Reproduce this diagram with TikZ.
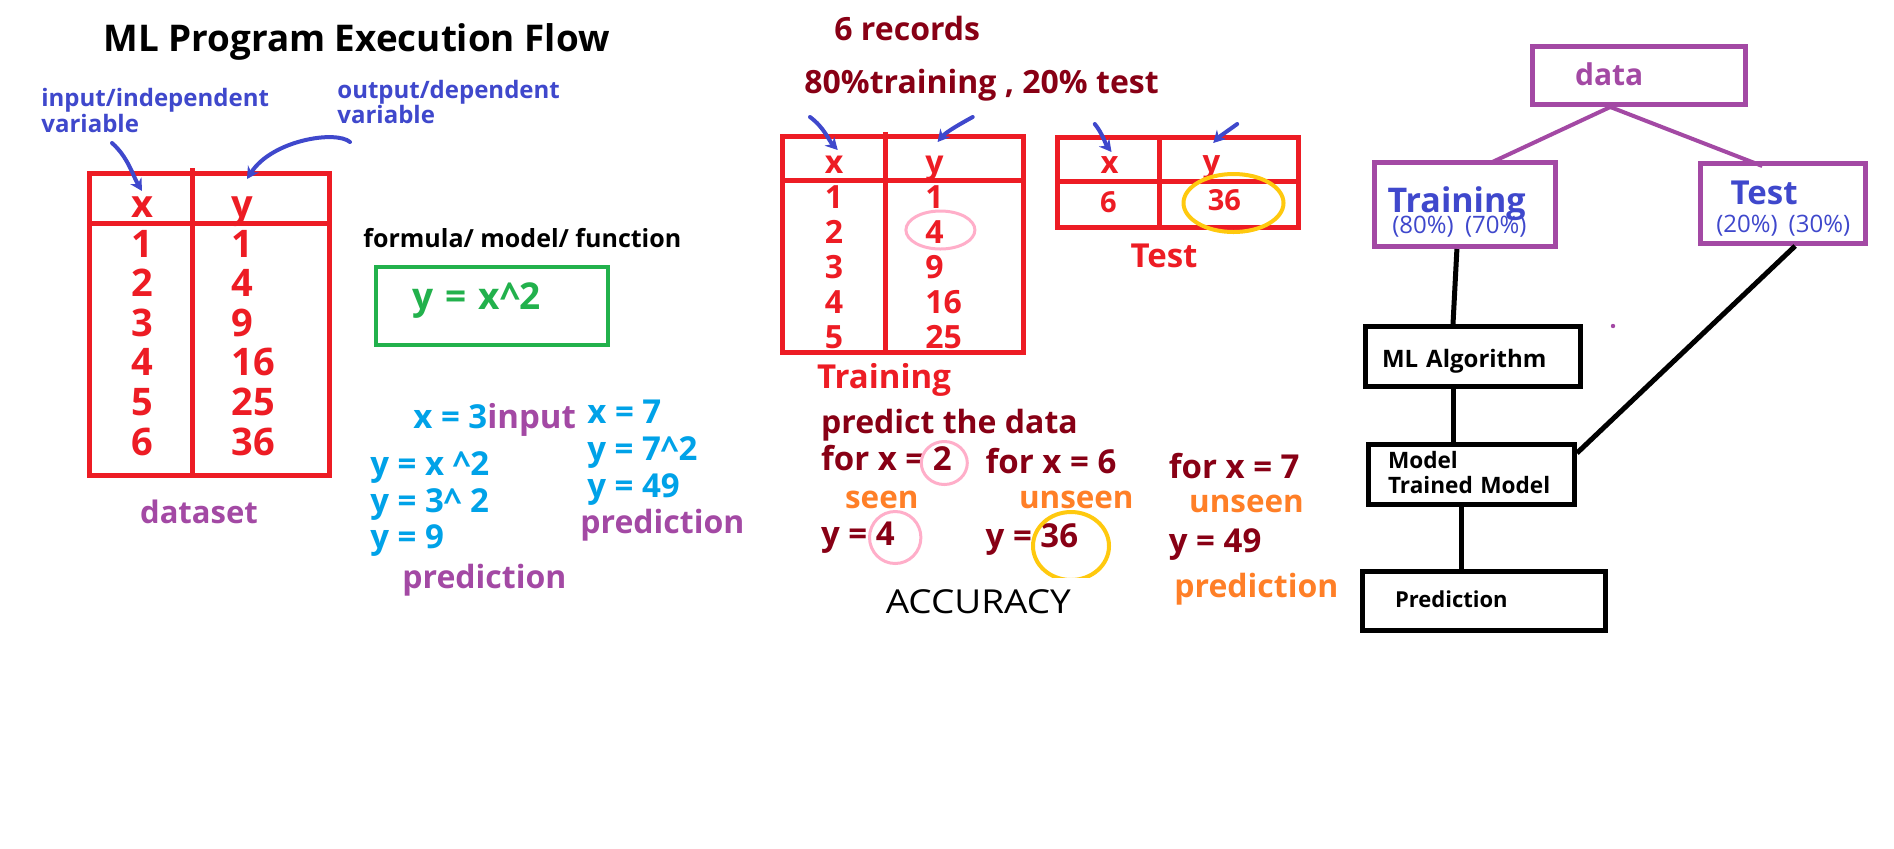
\documentclass[tikz,border=0pt]{standalone}
\usepackage{fontspec}
\setmainfont{Open Sans}
\newfontfamily\widefont{Open Sans}[FakeStretch=1.12]
\usetikzlibrary{arrows.meta,calc}
\definecolor{cred}{HTML}{ED1C24}
\definecolor{cblue}{HTML}{3F48CC}
\definecolor{cpurple}{HTML}{A349A4}
\definecolor{cgreen}{HTML}{22B14C}
\definecolor{ccyan}{HTML}{00A2E8}
\definecolor{cdark}{HTML}{880015}
\definecolor{corange}{HTML}{FF7F27}
\definecolor{cpink}{HTML}{FFAEC9}
\definecolor{cyellow}{HTML}{FFC90E}
\newcommand\myfs[1]{\fontsize{#1}{#1}\selectfont}
\begin{document}
\begin{tikzpicture}[x=0.5pt,y=-0.5pt,
  txt/.style={inner sep=0pt, anchor=base west},
  txtc/.style={inner sep=0pt, anchor=base},
  tabline/.style={draw=cred, line width=2.5pt},
  barrow/.style={draw=cblue, line width=2pt, line cap=round, -{Stealth[length=6pt,width=6.5pt]}},
  bx/.style={rectangle, inner ysep=0pt, align=left},
  pbox/.style={bx, draw=cpurple, line width=2.5pt},
  kbox/.style={bx, draw=black, line width=2.5pt, font=\bfseries\myfs{12}},
  pline/.style={draw=cpurple, line width=2pt},
  kline/.style={draw=black, line width=2.5pt},
  ring/.style={line width=1.5pt, draw=cpink},
  yring/.style={line width=2pt, draw=cyellow}]
\fill[white] (0,0) rectangle (1894,848);
\useasboundingbox (0,0) rectangle (1894,848);

% ---------- title and variable labels ----------
\node[txt, font=\bfseries\myfs{18.4}] (title) at (103,51) {ML Program Execution Flow};
\node[txt, font=\bfseries\myfs{12}, text=cblue] (inlab) at (41,106) {input/independent};
\node[txt, font=\bfseries\myfs{12}, text=cblue] (inlabb) at (41,132) {variable};
\node[txt, font=\bfseries\myfs{12}, text=cblue] (outlab) at (337,98) {output/dependent};
\node[txt, font=\bfseries\myfs{12}, text=cblue] (outlabb) at (337,123) {variable};

% ---------- dataset table ----------
\draw[tabline] (89.5,173.5) rectangle (329.5,475.5);
\draw[tabline] (192.5,168) -- (192.5,475.5);
\draw[tabline] (89.5,223) -- (329.5,223);
\node[txtc, font=\bfseries\myfs{19}, text=cred] (dshx) at (142,217) {x};
\node[txt, font=\bfseries\myfs{19}, text=cred] (dshy) at (231,217) {y};
\foreach \i/\a/\b in {0/1/1,1/2/4,2/3/9,3/4/16,4/5/25,5/6/36}{
  \node[txtc, font=\bfseries\myfs{19}, text=cred] (dsx\i) at (142,{257+39.6*\i}) {\a};
  \node[txt, font=\bfseries\myfs{19}, text=cred] (dsy\i) at (231,{257+39.6*\i}) {\b};
}
\node[txtc, font=\bfseries\myfs{15.5}, text=cpurple] (dslab) at (199,523) {dataset};

\coordinate (a1s) at (112,143); \coordinate (a1e) at (142,191);
\draw[barrow] (a1s) .. controls (128,157) and (133,176) .. (a1e);
\coordinate (a2s) at (350,142); \coordinate (a2e) at (247,179);
\draw[barrow] (a2s) .. controls (336,130) and (272,140) .. (a2e);

% ---------- formula ----------
\node[txt, font=\bfseries\myfs{12.5}] (formula) at (363,247) {formula/ model/ function};
\node[bx, draw=cgreen, line width=2pt, minimum width=116pt, minimum height=39pt,
  text width=80pt, inner xsep=18pt, text height=3.5pt, text depth=0.5pt,
  font=\bfseries\myfs{18.5}, text=cgreen] (fbox) at (492,306) {y = x\textasciicircum 2};

\node[txt, font=\bfseries\myfs{16.5}] (x3) at (413,428) {\textcolor{ccyan}{x = 3}\textcolor{cpurple}{input}};
\node[txt, font=\bfseries\myfs{16.5}, text=ccyan] (yx2) at (370,475) {y = x \textasciicircum 2};
\node[txt, font=\bfseries\myfs{16.5}, text=ccyan] (y32) at (370,512) {y = 3\textasciicircum{} 2};
\node[txt, font=\bfseries\myfs{16.5}, text=ccyan] (y9) at (370,548) {y = 9};
\node[txt, font=\bfseries\myfs{16}, text=cpurple] (predA) at (402,588) {prediction};
\node[txt, font=\bfseries\myfs{16.5}, text=ccyan] (x7) at (587,423) {x = 7};
\node[txt, font=\bfseries\myfs{16.5}, text=ccyan] (y72) at (587,460) {y = 7\textasciicircum 2};
\node[txt, font=\bfseries\myfs{16.5}, text=ccyan] (y49) at (587,497) {y = 49};
\node[txt, font=\bfseries\myfs{16}, text=cpurple] (predB) at (580,533) {prediction};

% ---------- split ----------
\node[txt, font=\bfseries\myfs{16}, text=cdark] (rec) at (834,40) {6 records};
\node[txt, font=\bfseries\myfs{16}, text=cdark] (split) at (804,93) {80\%training , 20\% test};

% training table
\draw[tabline] (782.8,136.5) rectangle (1023,352.5);
\draw[tabline] (885.8,132) -- (885.8,352.5);
\draw[tabline] (782.8,180.5) -- (1023,180.5);
\node[txtc, font=\bfseries\myfs{16}, text=cred] (trhx) at (834,173) {x};
\node[txt, font=\bfseries\myfs{16}, text=cred] (trhy) at (925,173) {y};
\foreach \i/\a/\b in {0/1/1,1/2/4,2/3/9,3/4/16,4/5/25}{
  \node[txtc, font=\bfseries\myfs{16}, text=cred] (trx\i) at (834,{208+35*\i}) {\a};
  \node[txt, font=\bfseries\myfs{16}, text=cred] (try\i) at (925,{208+35*\i}) {\b};
}
\draw[ring] (940.4,230) ellipse [x radius=34.5, y radius=19];
\node[txtc, font=\bfseries\myfs{16.5}, text=cred] (trlab) at (884,388) {Training};

% test table
\draw[tabline] (1057.4,137.5) rectangle (1298.7,227.5);
\draw[tabline] (1159.6,137.5) -- (1159.6,227.5);
\draw[tabline] (1057.4,181) -- (1301,181);
\node[txtc, font=\bfseries\myfs{15.5}, text=cred] (tehx) at (1109.6,173) {x};
\node[txtc, font=\bfseries\myfs{15.5}, text=cred] (tehy) at (1211.4,172) {y};
\node[txtc, font=\bfseries\myfs{14.5}, text=cred] (tex) at (1108.5,212) {6};
\node[txtc, font=\bfseries\myfs{14.5}, text=cred] (tey) at (1224.3,210) {36};
\draw[yring] (1233.5,203) ellipse [x radius=50, y radius=29];
\node[txtc, font=\bfseries\myfs{16.5}, text=cred] (telab) at (1164,267) {Test};

\coordinate (a3s) at (810,117); \coordinate (a3e) at (837.7,150);
\draw[barrow] (a3s) .. controls (824.7,128) and (828.4,140) .. (a3e);
\coordinate (a4s) at (972.7,117); \coordinate (a4e) at (937.6,142);
\draw[barrow] (a4s) .. controls (960,124) and (946,132) .. (a4e);
\coordinate (a5s) at (1094.8,124); \coordinate (a5e) at (1111.5,152);
\draw[barrow] (a5s) .. controls (1102.2,133) and (1106,145) .. (a5e);
\coordinate (a6s) at (1237.2,124); \coordinate (a6e) at (1213.2,143);
\draw[barrow] (a6s) .. controls (1229,130) and (1220,136) .. (a6e);

% ---------- predictions ----------
\node[txt, font=\bfseries\myfs{16}, text=cdark] (pdata) at (820.7,433) {predict the data};
\node[txt, font=\bfseries\myfs{16.5}, text=cdark] (f2) at (820.7,470) {for x = 2};
\node[txt, font=\bfseries\myfs{16.5}, text=cdark] (f6) at (985.3,473) {for x = 6};
\node[txt, font=\bfseries\myfs{16.5}, text=cdark] (f7) at (1168.5,478) {for x = 7};
\node[txt, font=\bfseries\myfs{15.7}, text=corange] (seen) at (844.7,508) {seen};
\node[txt, font=\bfseries\myfs{15.7}, text=corange] (unseenA) at (1018.6,508) {unseen};
\node[txt, font=\bfseries\myfs{15.7}, text=corange] (unseenB) at (1188.8,512) {unseen};
\node[txt, font=\bfseries\myfs{16.5}, text=cdark] (y4) at (820.7,545) {y = 4};
\node[txt, font=\bfseries\myfs{16.5}, text=cdark] (y36) at (985.3,547) {y = 36};
\node[txt, font=\bfseries\myfs{16.5}, text=cdark] (y49b) at (1168.5,552) {y = 49};
\node[txt, font=\bfseries\myfs{16}, text=corange] (predC) at (1174,597) {prediction};
\node[txt, font=\widefont\myfs{16.5}] (acc) at (885.4,613) {ACCURACY};
\draw[ring] (944.3,463) ellipse [x radius=23, y radius=21.5];
\draw[ring] (895.2,537.5) ellipse [x radius=25.7, y radius=26];
\begin{scope}
  \clip (1020,500) rectangle (1125,577);
  \draw[yring] (1071,546) ellipse [x radius=38, y radius=34];
\end{scope}

% ---------- flow chart ----------
\node[pbox, minimum width=106.7pt, minimum height=29pt, text width=63.95pt, inner xsep=21.35pt,
  text height=10pt, text depth=0.5pt, font=\bfseries\myfs{15}, text=cpurple] (data) at (1639,75.5) {data};
\node[pbox, minimum width=90.6pt, minimum height=42pt, text width=77.2pt, inner xsep=6.7pt,
  text height=8pt, text depth=0.5pt, text=cblue,
  font={\bfseries\fontsize{17}{10.5}\selectfont\lineskiplimit=-50pt}] (trbox) at (1464.9,204.5)
  {Training\\\hspace*{2.3pt}{\mdseries\fontsize{12}{10.5}\selectfont (80\%)~(70\%)}};
\node[pbox, minimum width=82.3pt, minimum height=40pt, text width=66.5pt, inner xsep=7.9pt,
  text height=1pt, text depth=0.5pt, text=cblue,
  font={\bfseries\fontsize{16.5}{14}\selectfont\lineskiplimit=-50pt}] (tebox) at (1782.8,203.5)
  {\hspace*{7.1pt}Test\\{\mdseries\fontsize{12}{14}\selectfont\mbox{(20\%)~(30\%)}}};
\node[kbox, minimum width=107.5pt, minimum height=30pt, text width=91pt, inner xsep=8.25pt,
  text height=11pt, text depth=0.5pt] (ml) at (1473,356.5) {ML Algorithm};
\node[kbox, minimum width=103pt, minimum height=30pt, text width=83.5pt, inner xsep=9.75pt,
  text height=1pt, text depth=7.5pt, font={\bfseries\fontsize{11.3}{12.5}\selectfont\lineskiplimit=-50pt}]
  (model) at (1471.5,474.5) {Model\\Trained Model};
\node[kbox, minimum width=121.5pt, minimum height=29.5pt, text width=89pt, inner xsep=16.25pt,
  text height=6.5pt, text depth=0.5pt, font=\bfseries\myfs{11}] (pred) at (1484,601) {Prediction};

\draw[pline] ($(data.south)+(-28.7,0)$) -- ($(trbox.north)+(25.3,3)$);
\draw[pline] ($(data.south)+(-28.7,0)$) -- ($(tebox.north)+(-20.5,5)$);
\draw[kline] ($(trbox.south)+(-8,0)$) -- ($(ml.north)+(-20,0)$);
\draw[kline] ($(ml.south)+(-20,0)$) -- ($(model.north)+(-18.5,0)$);
\draw[kline] ($(tebox.south)+(12.3,0)$) -- ($(model.east)+(0,-21.5)$);
\draw[kline] ($(model.south)+(-10.5,0)$) -- ($(pred.north)+(-23,0)$);
\fill[cpurple] (1613,326) circle [radius=2.2];
\end{tikzpicture}
\end{document}
